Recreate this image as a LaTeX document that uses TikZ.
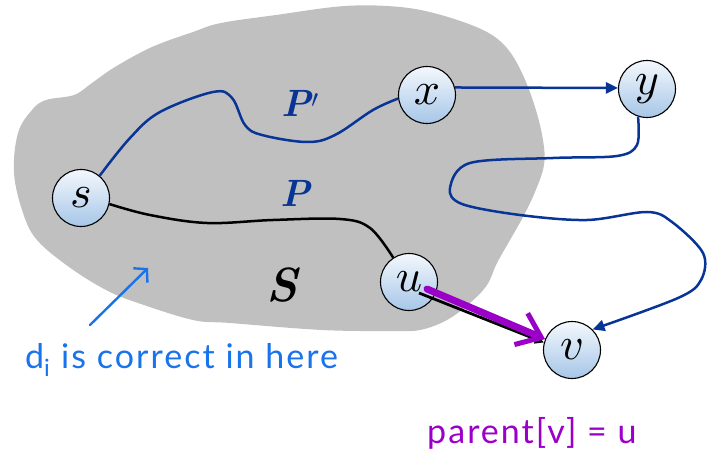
\documentclass[tikz,border=0pt]{standalone}
\usepackage{graphicx}
\usepackage{fontspec}
\usetikzlibrary{arrows.meta,shapes.geometric}
\definecolor{pblue}{RGB}{8,52,150}
\definecolor{hblue}{RGB}{25,115,235}
\definecolor{hpurple}{RGB}{155,0,200}
\definecolor{blobgray}{RGB}{192,192,192}
\definecolor{ntop}{RGB}{244,248,253}
\definecolor{nbot}{RGB}{166,198,232}
\newfontfamily\handfont[LetterSpace=6]{Lato}
\newcommand{\vtxletter}[1]{\scalebox{4.6}{$#1$}}
\begin{document}
\begin{tikzpicture}[x=1pt,y=-1pt,
  vtx/.style={ellipse, draw=black, line width=1.1pt, minimum width=57pt, minimum height=57pt,
    inner sep=0pt, top color=ntop, bottom color=nbot},
  bluepath/.style={pblue, line width=2.5pt},
  blacktip/.style={-{Triangle[length=9pt,width=9pt]}},
  bluetip/.style={-{Triangle[length=12pt,width=11pt]}},
  plabel/.style={pblue, font=\fontsize{38}{38}\selectfont\bfseries\itshape},
]
\useasboundingbox (0,0) rectangle (715,457);
% region S
\fill[blobgray] plot[smooth cycle, tension=0.6] coordinates {
 (14,173) (18,133) (32,110) (46,100) (74,95) (92,83) (115,67) (152,47) (193,32)
 (221,23) (276,15) (345,6) (400,7) (441,15) (483,30) (506,47) (522,73) (535,107)
 (543,140) (544,165) (535,192) (523,217) (510,240) (497,263) (487,285) (470,303)
 (447,320) (420,330) (391,331) (322,330) (230,323) (193,320) (138,303) (106,290)
 (69,267) (37,240) (23,213)};
% vertices
\node[vtx] (s) at (81,198) {\raisebox{-4pt}{\vtxletter{s}}};
\node[vtx] (x) at (427,95) {\vtxletter{x}};
\node[vtx] (y) at (647,89) {\vtxletter{y}};
\node[vtx] (u) at (409,282) {\vtxletter{u}};
\node[vtx] (v) at (572,350) {\vtxletter{v}};
% labels
\node[plabel] (Pp) at (300,103) {P$'$};
\node[plabel] (P) at (295,193) {P};
\node[font=\fontsize{48}{48}\selectfont\bfseries\itshape] (S) at (282,285) {S};
% path P'
\draw[bluepath] plot[smooth, tension=0.6] coordinates {(s.50) (130,138) (160,112) (213,92)
  (232,98) (245,125) (262,135) (307,142) (335,135) (373,110) (x.187)};
% path P
\draw[black, line width=2.5pt] plot[smooth, tension=0.6] coordinates {(s.-12) (150,215) (207,223)
  (273,220) (340,219) (370,228) (u.123)};
% x -> y
\draw[bluepath, bluetip] (x.15) -- (y.178);
% y -> v
\draw[bluepath, bluetip] plot[smooth, tension=0.55] coordinates {(y.-108) (637,145) (617,156)
  (553,158) (470,163) (450,188) (462,204) (520,215) (587,220) (647,212) (672,222)
  (703,253) (701,280) (678,298) (v.45)};
% u -> v
\coordinate (ua) at (419,293);
\coordinate (ub) at (427,289);
\draw[black, line width=2.8pt, blacktip] (ua) -- (v.165);
\draw[hpurple, line width=7pt, line cap=round, -{Straight Barb[length=22pt,width=34pt,line width=5pt]}]
  (ub) -- (v.158);
% handwritten notes
\coordinate (h1) at (90,325);
\coordinate (h2) at (148,268);
\draw[hblue, line width=2.4pt, line cap=round, -{Straight Barb[length=9pt,width=20pt]}] (h1) -- (h2);
\node[hblue, anchor=base west, font=\handfont\fontsize{34}{34}\selectfont, inner sep=0pt] (note)
  at (25,368) {d\textsubscript{i} is correct in here};
\node[hpurple, anchor=base west, font=\handfont\fontsize{34}{34}\selectfont, inner sep=0pt] (par)
  at (427,443) {parent[v] = u};
\end{tikzpicture}
\end{document}
